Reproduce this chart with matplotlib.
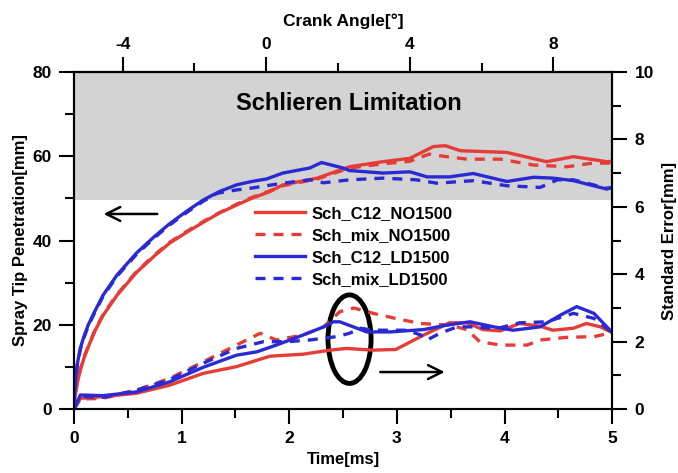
import matplotlib
matplotlib.use("Agg")
import matplotlib.pyplot as plt
from matplotlib.patches import Ellipse

plt.rcParams["font.family"] = ["Liberation Sans", "DejaVu Sans"]
plt.rcParams["font.weight"] = "bold"
plt.rcParams["axes.unicode_minus"] = False

RED = "#e53c38"
BLUE = "#2a2ad4"

# spray tip penetration [mm] (left axis)
T_PEN_C12_LD = [0, 0.01, 0.03, 0.06, 0.09, 0.13, 0.18, 0.27, 0.4, 0.58, 0.75, 0.89, 1.05,
                1.2, 1.35, 1.51, 1.65, 1.79, 1.94, 2.19, 2.30, 2.5, 2.56, 2.87, 3.12,
                3.28, 3.49, 3.71, 4.02, 4.27, 4.45, 4.64, 4.95, 5.0]
PEN_C12_LD = [0, 5.5, 10.5, 14.5, 17.0, 19.8, 22.5, 27.0, 31.8, 37.0, 41.0, 44.0, 47.0,
              49.6, 51.6, 53.2, 54.0, 54.6, 56.0, 57.2, 58.5, 57.2, 56.6, 56.0, 56.3,
              55.1, 55.1, 55.9, 54.0, 55.0, 54.8, 54.2, 52.2, 52.6]

T_PEN_MIX_LD = [0, 0.01, 0.03, 0.06, 0.09, 0.13, 0.18, 0.27, 0.4, 0.58, 0.75, 0.89, 1.05,
                1.2, 1.33, 1.51, 1.64, 1.94, 2.19, 2.32, 2.56, 2.87, 3.18, 3.37, 3.71,
                4.02, 4.33, 4.49, 4.64, 4.95, 5.0]
PEN_MIX_LD = [0, 5.3, 10.2, 14.2, 16.7, 19.5, 22.2, 26.7, 31.5, 36.7, 40.7, 43.7, 46.7,
              49.3, 51.2, 52.0, 52.4, 53.6, 54.4, 53.7, 54.4, 54.8, 54.4, 53.6, 54.2,
              53.0, 52.6, 54.4, 54.4, 52.4, 52.6]

T_PEN_C12_NO = [0, 0.01, 0.03, 0.06, 0.1, 0.15, 0.2, 0.27, 0.4, 0.58, 0.75, 0.89, 1.05,
                1.2, 1.35, 1.51, 1.65, 1.82, 1.94, 2.26, 2.56, 2.87, 3.12, 3.34, 3.45,
                3.59, 4.02, 4.39, 4.64, 4.95, 5.0]
PEN_C12_NO = [0, 2.8, 6.0, 9.3, 12.6, 15.8, 18.8, 22.2, 27.0, 32.4, 36.4, 39.4, 42.0,
              44.3, 46.5, 48.4, 50.0, 51.6, 53.2, 54.8, 57.5, 58.7, 59.5, 62.3, 62.5,
              61.3, 60.9, 58.7, 59.9, 58.7, 58.8]

T_PEN_MIX_NO = [0, 0.01, 0.03, 0.06, 0.1, 0.15, 0.2, 0.27, 0.4, 0.58, 0.75, 0.89, 1.05,
                1.2, 1.35, 1.51, 1.65, 1.82, 1.94, 2.26, 2.56, 2.87, 3.12, 3.3, 3.43,
                3.65, 3.96, 4.27, 4.58, 4.8, 5.0]
PEN_MIX_NO = [0, 2.9, 6.1, 9.5, 12.8, 16.0, 19.0, 22.4, 27.2, 32.6, 36.6, 39.6, 42.2,
              44.5, 46.6, 48.6, 50.2, 51.8, 53.0, 54.6, 57.2, 58.2, 58.8, 60.5, 60.0,
              59.3, 59.3, 57.9, 57.5, 58.3, 58.4]

# standard error [mm] (right axis)
T_SE_C12_NO = [0, 0.06, 0.27, 0.58, 0.89, 1.2, 1.51, 1.82, 2.13, 2.38, 2.53, 2.78, 2.99,
               3.25, 3.49, 3.65, 3.8, 3.96, 4.14, 4.33, 4.45, 4.64, 4.76, 4.89, 5.0]
SE_C12_NO = [0, 0.32, 0.37, 0.47, 0.71, 1.06, 1.26, 1.57, 1.63, 1.75, 1.8, 1.75, 1.77,
             2.2, 2.56, 2.56, 2.36, 2.32, 2.54, 2.46, 2.34, 2.4, 2.54, 2.44, 2.27]

T_SE_MIX_NO = [0, 0.06, 0.27, 0.58, 0.89, 1.2, 1.51, 1.73, 1.88, 2.13, 2.32, 2.47, 2.6,
               2.78, 3.03, 3.22, 3.49, 3.65, 3.77, 3.96, 4.21, 4.33, 4.58, 4.83, 5.0]
SE_MIX_NO = [0, 0.3, 0.32, 0.56, 0.91, 1.4, 1.9, 2.25, 2.05, 2.2, 2.44, 2.89, 3.0,
             2.84, 2.66, 2.54, 2.49, 2.36, 2.0, 1.9, 1.9, 2.05, 2.13, 2.15, 2.27]

T_SE_C12_LD = [0, 0.06, 0.27, 0.58, 0.89, 1.2, 1.51, 1.7, 1.88, 2.13, 2.32, 2.41, 2.47,
               2.72, 2.94, 3.25, 3.46, 3.68, 3.9, 4.08, 4.33, 4.52, 4.67, 4.83, 5.0]
SE_C12_LD = [0, 0.42, 0.4, 0.51, 0.81, 1.24, 1.6, 1.7, 1.9, 2.2, 2.44, 2.59, 2.59,
             2.29, 2.29, 2.36, 2.49, 2.59, 2.44, 2.34, 2.44, 2.79, 3.04, 2.84, 2.27]

T_SE_MIX_LD = [0, 0.06, 0.27, 0.58, 0.89, 1.2, 1.51, 1.76, 1.98, 2.19, 2.44, 2.56, 2.66,
               2.78, 3.09, 3.22, 3.28, 3.4, 3.56, 3.71, 3.93, 4.14, 4.39, 4.64, 4.83, 5.0]
SE_MIX_LD = [0, 0.38, 0.35, 0.56, 0.88, 1.36, 1.8, 2.0, 2.0, 2.05, 2.15, 2.25, 2.4,
             2.34, 2.34, 2.2, 2.05, 2.25, 2.44, 2.44, 2.39, 2.56, 2.59, 2.84, 2.69, 2.27]

LABELS = ["Sch_C12_NO1500", "Sch_mix_NO1500", "Sch_C12_LD1500", "Sch_mix_LD1500"]

DASH = (0, (3, 2.4))
LW = 2.4

fig = plt.figure(figsize=(6.78, 4.73), dpi=100)
ax = fig.add_axes([0.109, 0.135, 0.794, 0.713])
ax2 = ax.twinx()

ax.axhspan(49.5, 80, color="#d3d3d3", zorder=0, lw=0)

pen_series = [
    (T_PEN_C12_NO, PEN_C12_NO, RED, "-"),
    (T_PEN_MIX_NO, PEN_MIX_NO, RED, DASH),
    (T_PEN_C12_LD, PEN_C12_LD, BLUE, "-"),
    (T_PEN_MIX_LD, PEN_MIX_LD, BLUE, DASH),
]
handles = []
for (t, v, c, ls), lab in zip(pen_series, LABELS):
    h, = ax.plot(t, v, color=c, ls=ls, lw=LW, label=lab)
    handles.append(h)

se_series = [
    (T_SE_C12_NO, SE_C12_NO, RED, "-"),
    (T_SE_MIX_NO, SE_MIX_NO, RED, DASH),
    (T_SE_C12_LD, SE_C12_LD, BLUE, "-"),
    (T_SE_MIX_LD, SE_MIX_LD, BLUE, DASH),
]
for t, v, c, ls in se_series:
    ax2.plot(t, v, color=c, ls=ls, lw=LW)

ax.set_xlim(0, 5)
ax.set_ylim(0, 80)
ax2.set_ylim(0, 10)
ax.set_xticks([0, 1, 2, 3, 4, 5])
ax.set_xticks([0.5, 1.5, 2.5, 3.5, 4.5], minor=True)
ax.set_yticks([0, 20, 40, 60, 80])
ax.set_yticks([10, 30, 50, 70], minor=True)
ax2.set_yticks([0, 2, 4, 6, 8, 10])
ax2.set_yticks([1, 3, 5, 7, 9], minor=True)

top = ax.secondary_xaxis("top", functions=(lambda t: 3.0 * t - 5.36,
                                           lambda ca: (ca + 5.36) / 3.0))
top.set_xticks([-4, 0, 4, 8])
top.set_xticks([-2, 2, 6], minor=True)

for a in (ax, ax2, top):
    a.tick_params(which="major", direction="out", length=11, width=1.5,
                  labelsize=12.5, pad=5)
    a.tick_params(which="minor", direction="out", length=6.5, width=1.5)
    for lbl in a.get_xticklabels() + a.get_yticklabels():
        lbl.set_fontweight("bold")
top.tick_params(which="major", pad=3)
for a in (ax, ax2):
    for s in a.spines.values():
        s.set_linewidth(1.5)
top.spines["top"].set_linewidth(1.5)

ax.set_xlabel("Time[ms]", fontsize=12, fontweight="bold", labelpad=4)
ax.set_ylabel("Spray Tip Penetration[mm]", fontsize=12, fontweight="bold", labelpad=3)
ax2.set_ylabel("Standard Error[mm]", fontsize=12, fontweight="bold", labelpad=6)
top.set_xlabel("Crank Angle[°]", fontsize=12.5, fontweight="bold", labelpad=8)

ax.text(2.55, 72.5, "Schlieren Limitation", fontsize=17, fontweight="bold",
        ha="center", va="center")

ax.legend(handles=handles, loc="upper left", bbox_to_anchor=(0.32, 0.628),
          frameon=False, borderpad=0, handlelength=3.0, handletextpad=0.45,
          labelspacing=0.42, prop={"size": 12, "weight": "bold"})

ax.annotate("", xy=(0.25, 46.3), xytext=(0.8, 46.3),
            arrowprops=dict(arrowstyle="->,head_length=1.0,head_width=0.5", lw=1.8, color="black"))
ax.annotate("", xy=(3.47, 8.8), xytext=(2.82, 8.8),
            arrowprops=dict(arrowstyle="->,head_length=1.0,head_width=0.5", lw=1.8, color="black"))

ax.add_patch(Ellipse((2.56, 16.6), 0.40, 21.0, fill=False, lw=3.5, color="black", zorder=5))

fig.savefig("out.png", dpi=100)
